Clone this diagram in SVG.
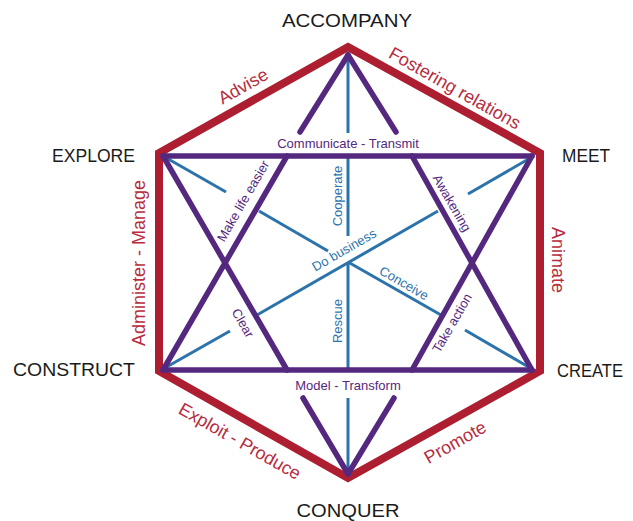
<svg xmlns="http://www.w3.org/2000/svg" width="633" height="521" viewBox="0 0 633 521">
<style>
.red{fill:none;stroke:#AD1F30;stroke-width:8;stroke-linejoin:miter}
.pur{fill:none;stroke:#55287F;stroke-width:5.5;stroke-linecap:round}
.blu{fill:none;stroke:#2B73AA;stroke-width:3}
text{font-family:"Liberation Sans","DejaVu Sans",sans-serif}
.v{font-size:19px;fill:#1a1a1a}
.rl{font-size:18px;fill:#B72D40;text-anchor:middle}
.pl{font-size:13px;fill:#55287F;text-anchor:middle}
.bl{font-size:13px;fill:#2B73AA;text-anchor:middle}
</style>
<rect width="633" height="521" fill="#fff"/>
<g id="connectors">
<polygon class="red" points="348,47 540,153 540,371 348,478 159,371 159,153"/>
<g id="blue-lines">
<line class="blu" x1="348" y1="56" x2="348" y2="133"/>
<line class="blu" x1="348" y1="156" x2="348" y2="236"/>
<line class="blu" x1="348" y1="262" x2="348" y2="370"/>
<line class="blu" x1="348" y1="398" x2="348" y2="474"/>
<line class="blu" x1="163" y1="156" x2="226" y2="192"/>
<line class="blu" x1="259" y1="211" x2="328" y2="251"/>
<line class="blu" x1="348" y1="262" x2="441" y2="315"/>
<line class="blu" x1="465" y1="330" x2="532" y2="369"/>
<line class="blu" x1="163" y1="369" x2="230" y2="331"/>
<line class="blu" x1="257" y1="315" x2="438" y2="211"/>
<line class="blu" x1="468" y1="194" x2="532" y2="157"/>
</g>
<g id="purple-lines">
<line class="pur" x1="163" y1="156" x2="532" y2="156"/>
<line class="pur" x1="163" y1="370" x2="532" y2="370"/>
<line class="pur" x1="163" y1="156" x2="287" y2="370"/>
<line class="pur" x1="163" y1="370" x2="287" y2="156"/>
<line class="pur" x1="412" y1="156" x2="532" y2="370"/>
<line class="pur" x1="412" y1="370" x2="532" y2="156"/>
<line class="pur" x1="348" y1="55" x2="300" y2="132"/>
<line class="pur" x1="348" y1="55" x2="396" y2="132"/>
<line class="pur" x1="348" y1="474" x2="303" y2="398"/>
<line class="pur" x1="348" y1="474" x2="394" y2="398"/>
</g>
</g>
<g id="vertex-accompany"><text class="v" x="347" y="27" text-anchor="middle" textLength="130" lengthAdjust="spacingAndGlyphs">ACCOMPANY</text></g>
<g id="vertex-explore"><text class="v" x="135" y="162" text-anchor="end" textLength="83" lengthAdjust="spacingAndGlyphs">EXPLORE</text></g>
<g id="vertex-construct"><text class="v" x="135" y="376" text-anchor="end" textLength="122" lengthAdjust="spacingAndGlyphs">CONSTRUCT</text></g>
<g id="vertex-meet"><text class="v" x="562" y="162" textLength="48" lengthAdjust="spacingAndGlyphs">MEET</text></g>
<g id="vertex-create"><text class="v" x="557" y="377" textLength="66" lengthAdjust="spacingAndGlyphs">CREATE</text></g>
<g id="vertex-conquer"><text class="v" x="348" y="517" text-anchor="middle" textLength="103" lengthAdjust="spacingAndGlyphs">CONQUER</text></g>
<g id="edge-labels">
<text class="rl" transform="translate(243,86) rotate(-29.5)" dy="0.35em">Advise</text>
<text class="rl" transform="translate(455,88) rotate(29.5)" dy="0.35em">Fostering relations</text>
<text class="rl" transform="translate(139,263) rotate(-90)" dy="0.35em">Administer - Manage</text>
<text class="rl" transform="translate(558,260) rotate(90)" dy="0.35em">Animate</text>
<text class="rl" transform="translate(240,441) rotate(29.5)" dy="0.35em">Exploit - Produce</text>
<text class="rl" transform="translate(455,442) rotate(-29.5)" dy="0.35em">Promote</text>
</g>
<g id="inner-labels">
<text class="pl" x="348" y="148" font-size="13.5">Communicate - Transmit</text>
<text class="pl" x="348" y="390" font-size="13.5">Model - Transform</text>
<text class="pl" transform="translate(243,201) rotate(-60)" dy="0.35em">Make life easier</text>
<text class="pl" transform="translate(243,323) rotate(60)" dy="0.35em">Clear</text>
<text class="pl" transform="translate(452,203) rotate(60)" dy="0.35em">Awakening</text>
<text class="pl" transform="translate(452,323) rotate(-60)" dy="0.35em">Take action</text>
<text class="bl" transform="translate(337,196) rotate(-90)" dy="0.35em">Cooperate</text>
<text class="bl" transform="translate(337,321) rotate(-90)" dy="0.35em">Rescue</text>
<text class="bl" transform="translate(344,250) rotate(-30)" dy="0.35em">Do business</text>
<text class="bl" transform="translate(404,283) rotate(30)" dy="0.35em">Conceive</text>
</g>
</svg>
